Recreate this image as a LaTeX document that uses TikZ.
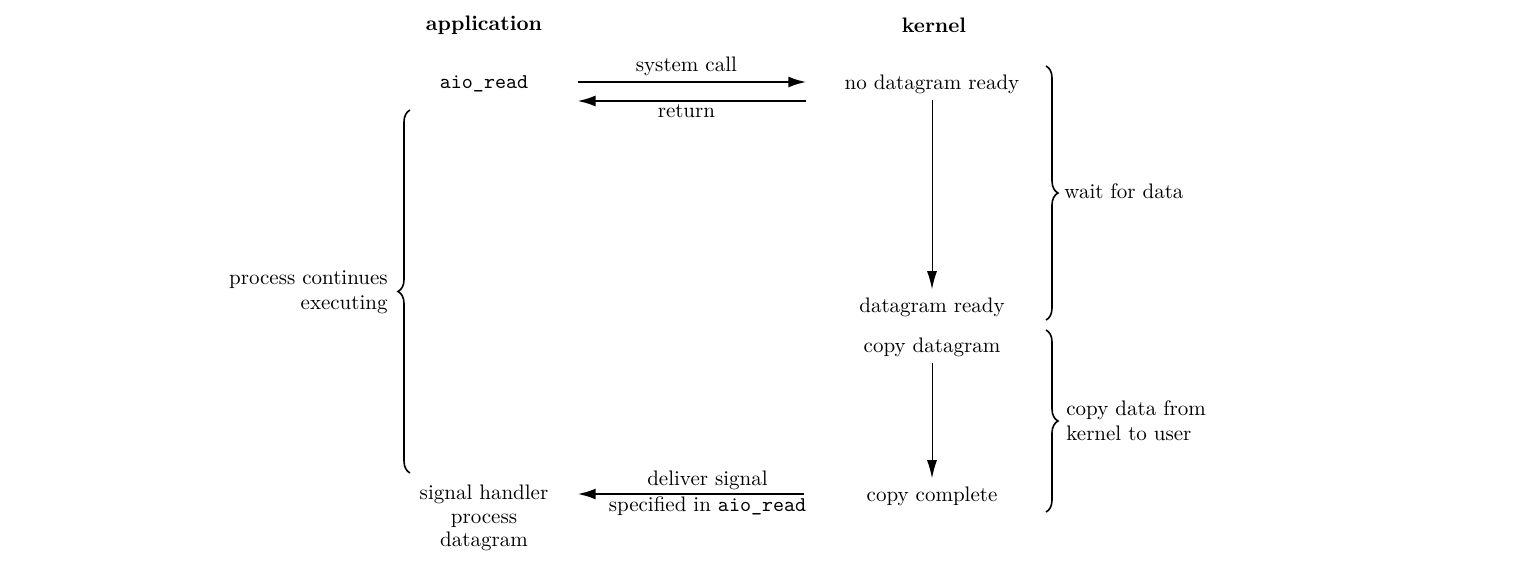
\documentclass[tikz,border=0pt]{standalone}
\usepackage{tikz}
\usetikzlibrary{calc,positioning,arrows.meta,decorations.pathreplacing}

\tikzset{
	lbl/.style={inner sep=2pt},
	head/.style={lbl,font=\fontsize{10.5}{12.5}\selectfont\bfseries},
	callarrow/.style={line width=1.1pt,-{Latex[length=9pt,width=5.5pt]}},
	steparrow/.style={line width=0.5pt,-{Latex[length=9pt,width=5pt]},shorten <=1pt,shorten >=2pt},
	bracer/.style={line width=0.8pt,decorate,decoration={brace,amplitude=6pt}}
}

\begin{document}
\begin{tikzpicture}[x=0.5pt,y=-0.5pt,font=\fontsize{10.5}{12.5}\selectfont]
		\useasboundingbox (0,0) rectangle (1518,578);
		% column heads
		\node(app) [head] at (484,25) {application};
		\node(kern) [head] at (934,25) {kernel};
		% application side
		\node(aioread) [lbl,font=\fontsize{10.5}{12.5}\selectfont\ttfamily] at (484,84) {aio\_read};
		\node(sighandler) [lbl,align=center,font=\fontsize{10.5}{11.8}\selectfont] at (484,518) {signal handler\\process\\datagram};
		% kernel side
		\node(nodgram) [lbl] at (932,84) {no datagram ready};
		\node(dgready) [lbl] at (932,307) {datagram ready};
		\node(copydgram) [lbl] at (932,347) {copy datagram};
		\node(copydone) [lbl] at (932,496) {copy complete};
		% calls between application and kernel
		\draw [callarrow,shorten <=22.5pt,shorten >=17pt] ([yshift=1pt]aioread.east) -- ([yshift=1pt]nodgram.west) node[midway,above=-1pt] {system call};
		\draw [callarrow,shorten <=17pt,shorten >=22.5pt] ([yshift=-8.5pt]nodgram.west) -- ([yshift=-8.5pt]aioread.east) node[midway,below=-2pt] {return};
		\draw [callarrow,shorten <=29pt,shorten >=12.5pt] ([yshift=1pt]copydone.west) -- ([yshift=1pt]copydone.west -| sighandler.east) node[midway,above=-2pt] {deliver signal} node[midway,below=-2.5pt] {specified in {\ttfamily aio\_read}};
		% kernel steps
		\draw [steparrow] (nodgram) -- (dgready);
		\draw [steparrow] (copydgram) -- (copydone);
		% braces
		\coordinate (waittop) at (1046,66);
		\coordinate (waitbot) at (1046,320);
		\coordinate (copytop) at (1046,330);
		\coordinate (copybot) at (1046,512);
		\coordinate (runtop) at (410,110);
		\coordinate (runbot) at (410,473);
		\draw [bracer] (waittop) -- (waitbot);
		\draw [bracer] (copytop) -- (copybot);
		\draw [bracer] (runbot) -- (runtop);
		\node(waitlbl) [lbl,anchor=west] at (1060,191) {wait for data};
		\node(copylbl) [lbl,anchor=west,align=left] at (1062,421) {copy data from\\kernel to user};
		\node(runlbl) [lbl,anchor=east,align=right] at (392,292) {process continues\\executing};
	\end{tikzpicture}
\end{document}
